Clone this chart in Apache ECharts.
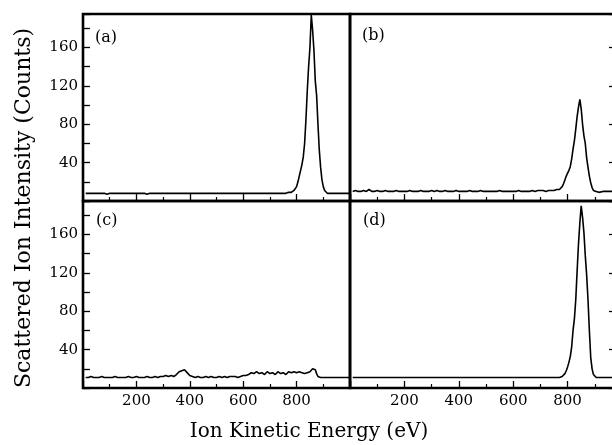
<!DOCTYPE html>
<html>
<head>
<meta charset="utf-8">
<script src="https://cdn.jsdelivr.net/npm/echarts@6/dist/echarts.min.js"></script>
<style>
html,body{margin:0;padding:0;background:#fff;}
#chart{width:612px;height:445px;}
</style>
</head>
<body>
<div id="chart"></div>
<script>
// Ion kinetic energy (eV)
const energies = [
  10,20,30,40,50,60,70,80,90,100,
  110,120,130,140,150,160,170,180,190,200,
  210,220,230,240,250,260,270,280,290,300,
  310,320,330,340,350,360,370,380,390,400,
  410,420,430,440,450,460,470,480,490,500,
  510,520,530,540,550,560,570,580,590,600,
  610,620,630,640,650,660,670,680,690,700,
  710,720,730,740,750,760,770,
  775,780,785,790,795,800,805,810,815,820,825,830,835,840,845,
  850,855,860,865,870,875,880,885,890,895,900,905,910,915,920,
  930,940,950,960,970,980,990,1000
];
// Scattered ion intensity (counts), panels (a)-(d)
const panelA = [
  8,8,8,8,8,8,8,8,7,8,
  8,8,8,8,8,8,8,8,8,8,
  8,8,8,7,8,8,8,8,8,8,
  8,8,8,8,8,8,8,8,8,8,
  8,8,8,8,8,8,8,8,8,8,
  8,8,8,8,8,8,8,8,8,8,
  8,8,8,8,8,8,8,8,8,8,
  8,8,8,8,8,8,9,
  9,9,10,11,13,15,20,26,32,38,46,60,85,115,140,
  160,194,178,157,125,110,80,53,35,22,15,11,9,8,8,
  8,8,8,8,8,8,8,8
];
const panelB = [
  10,11,10,10,11,10,12,10,10,11,
  10,10,11,10,10,10,11,10,10,10,
  10,11,10,10,10,11,10,10,10,11,
  10,11,10,10,11,10,10,10,11,10,
  10,10,10,11,10,10,10,11,10,10,
  10,10,10,10,11,10,10,10,10,10,
  10,11,10,10,10,10,11,10,11,11,
  11,10,11,11,11,12,12,
  13,15,18,22,26,29,32,36,44,54,63,75,88,98,106,
  96,80,68,60,45,35,26,19,14,11,10,10,10,9,10,
  10,10,10,10,10,10,10,10
];
const panelC = [
  11,11,12,11,11,11,12,11,11,11,
  11,12,11,11,11,11,12,11,11,12,
  11,11,11,12,11,11,12,11,12,12,
  13,12,13,12,14,17,18,19,16,13,
  12,11,12,11,11,12,11,12,11,11,
  12,11,12,11,12,12,12,11,12,13,
  13,14,16,15,17,15,16,14,17,15,
  16,14,17,15,16,14,17,
  15,16,14,17,15,16,14,17,15,16,18,15,17,16,18,
  17,19,20,18,19,15,12,11,11,11,11,11,11,11,11,
  11,11,11,11,11,11,11,11
];
const panelD = [
  11,11,11,11,11,11,11,11,11,11,
  11,11,11,11,11,11,11,11,11,11,
  11,11,11,11,11,11,11,11,11,11,
  11,11,11,11,11,11,11,11,11,11,
  11,11,11,11,11,11,11,11,11,11,
  11,11,11,11,11,11,11,11,11,11,
  11,11,11,11,11,11,11,11,11,11,
  11,11,11,11,11,11,11,
  11,12,13,15,18,22,27,33,43,60,72,92,122,150,172,
  190,178,162,138,118,92,60,32,20,14,12,11,11,11,11,
  11,11,11,11,11,11,11,11
];
const panelLabels = ['(a)','(b)','(c)','(d)'];
const xTickLabels = [200,400,600,800];
const yTickLabels = [40,80,120,160];
const xTitle = 'Ion Kinetic Energy (eV)';
const yTitle = 'Scattered Ion Intensity (Counts)';

const FONT = 'DejaVu Serif';
const chart = echarts.init(document.getElementById('chart'));
const grids = [
  {left:83, top:14, width:267, height:187},
  {left:350, top:14, width:272, height:187},
  {left:83, top:201, width:267, height:187},
  {left:350, top:201, width:272, height:187}
].map(g => Object.assign(g, {show:true, borderColor:'#000', borderWidth:2.6, backgroundColor:'transparent', containLabel:false, outerBoundsMode:'none'}));

const xAxes = grids.map((g, i) => ({
  type:'value', gridIndex:i, min:0, max:1000, interval:200,
  axisLine:{show:false},
  axisTick:{show:true, inside:true, length:7, lineStyle:{color:'#000', width:1.3}},
  minorTick:{show:true, splitNumber:2, length:4, lineStyle:{color:'#000', width:1.2}},
  splitLine:{show:false},
  axisLabel:{show: i >= 2, margin:6, color:'#000', fontFamily:FONT, fontSize:15,
    formatter: v => xTickLabels.includes(v) ? String(v) : ''}
}));
const yAxes = grids.map((g, i) => ({
  type:'value', gridIndex:i, min:0, max:195, interval:20,
  axisLine:{show:false},
  axisTick:{show: i % 2 === 0, inside:true, length:7, lineStyle:{color:'#000', width:1.3}},
  splitLine:{show:false},
  axisLabel:{show: i % 2 === 0, margin:5, color:'#000', fontFamily:FONT, fontSize:15,
    formatter: v => yTickLabels.includes(v) ? String(v) : ''}
}));
[1,3].forEach(i => yAxes.push({
  type:'value', gridIndex:i, position:'right', min:0, max:195, interval:40,
  axisLine:{show:false},
  axisTick:{show:true, inside:true, length:13, lineStyle:{color:'#000', width:1.3}},
  splitLine:{show:false}, axisLabel:{show:false}
}));

const panels = [panelA, panelB, panelC, panelD];
const series = panels.map((vals, i) => ({
  type:'line', xAxisIndex:i, yAxisIndex:i, showSymbol:false, silent:true,
  data: energies.map((e, k) => [e, vals[k]]),
  lineStyle:{color:'#000', width:1.6}, animation:false
}));

const labelPos = [[95,40],[362,38],[96,223],[363,223]];
const graphic = panelLabels.map((t, i) => ({
  type:'text', left:labelPos[i][0], top:labelPos[i][1]-10,
  style:{text:t, fontFamily:FONT, fontSize:16, fill:'#000'}
}));
graphic.push({type:'text', x:309, y:432, style:{text:xTitle, fontFamily:FONT, fontSize:20, fill:'#000', align:'center', verticalAlign:'middle'}});
graphic.push({type:'text', x:24, y:208, rotation:Math.PI/2, style:{text:yTitle, fontFamily:FONT, fontSize:22, fill:'#000', align:'center', verticalAlign:'middle'}});

chart.setOption({
  animation:false,
  backgroundColor:'#fff',
  grid:grids, xAxis:xAxes, yAxis:yAxes, series:series, graphic:graphic
});
</script>
</body>
</html>
